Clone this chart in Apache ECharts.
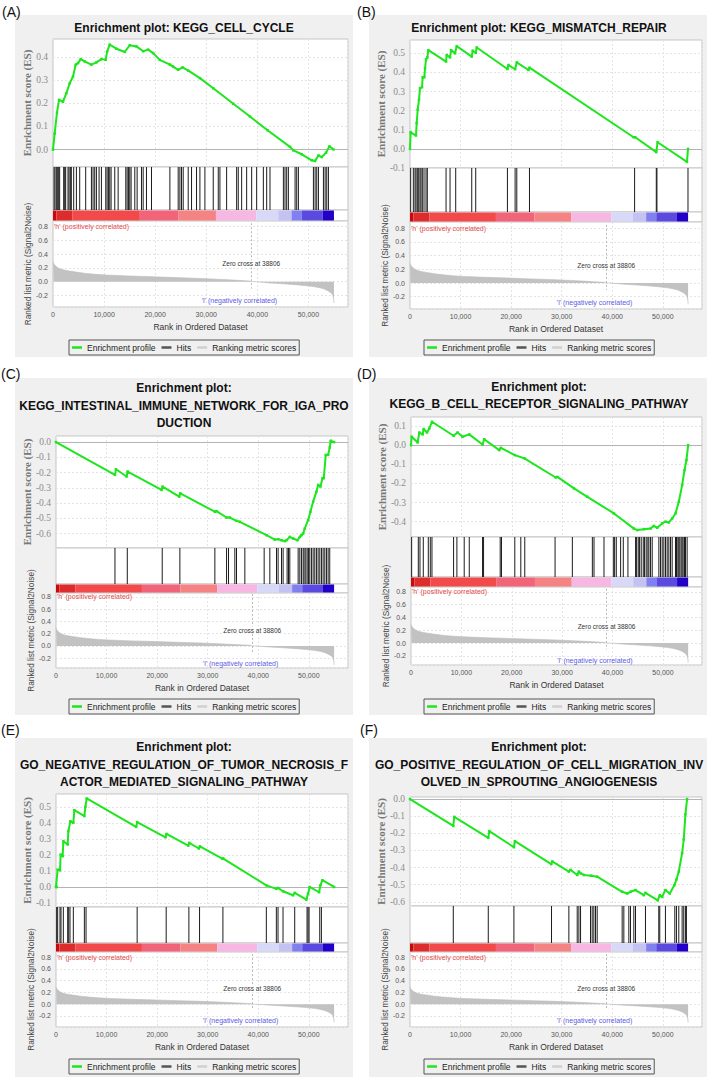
<!DOCTYPE html>
<html>
<head>
<meta charset="utf-8">
<script src="https://cdn.jsdelivr.net/npm/echarts@6/dist/echarts.min.js"></script>
<style>html,body{margin:0;padding:0;background:#fff}#c{width:709px;height:1077px}</style>
</head>
<body>
<div id="c"></div>
<script>
// ---------------- DATA ----------------
const panelLabels = ['(A)', '(B)', '(C)', '(D)', '(E)', '(F)'];
const panelTitles = [
  'Enrichment plot: KEGG_CELL_CYCLE',
  'Enrichment plot: KEGG_MISMATCH_REPAIR',
  'Enrichment plot:\nKEGG_INTESTINAL_IMMUNE_NETWORK_FOR_IGA_PRO\nDUCTION',
  'Enrichment plot:\nKEGG_B_CELL_RECEPTOR_SIGNALING_PATHWAY',
  'Enrichment plot:\nGO_NEGATIVE_REGULATION_OF_TUMOR_NECROSIS_F\nACTOR_MEDIATED_SIGNALING_PATHWAY',
  'Enrichment plot:\nGO_POSITIVE_REGULATION_OF_CELL_MIGRATION_INV\nOLVED_IN_SPROUTING_ANGIOGENESIS'
];
const legendNames = ['Enrichment profile', 'Hits', 'Ranking metric scores'];
const esAxisName = 'Enrichment score (ES)';
const rankAxisName = 'Ranked list metric (Signal2Noise)';
const xAxisName = 'Rank in Ordered Dataset';
const posLabel = "'h' (positively correlated)";
const negLabel = "'l' (negatively correlated)";
const ZERO_CROSS = 38806;
const zeroCrossLabel = 'Zero cross at 38806';
const xTickValues = [0, 10000, 20000, 30000, 40000, 50000];

// Running enrichment score, [rank, ES]
const esA = [[0,0.0],[330,0.07],[780,0.16],[1180,0.215],[1960,0.207],[2600,0.243],[3270,0.287],[3920,0.316],[4440,0.367],[4900,0.374],[5420,0.391],[6200,0.381],[7500,0.367],[8500,0.377],[9480,0.391],[10300,0.388],[10600,0.424],[11100,0.454],[12400,0.436],[14050,0.422],[15030,0.451],[16340,0.446],[17650,0.425],[18630,0.432],[19600,0.417],[20900,0.388],[22900,0.367],[23500,0.359],[24500,0.345],[25360,0.355],[26500,0.341],[28760,0.309],[31370,0.265],[35300,0.198],[38560,0.143],[42000,0.084],[46400,0.012],[47060,-0.003],[48700,-0.02],[50650,-0.046],[51300,-0.049],[51960,-0.025],[52610,-0.032],[53460,-0.013],[54100,0.014],[54900,0.001]];
const esB = [[0,0],[130,0.087],[1190,0.07],[1320,0.135],[1520,0.205],[1780,0.257],[1980,0.318],[2380,0.323],[2510,0.375],[2840,0.375],[2970,0.422],[3170,0.469],[3430,0.479],[3630,0.517],[7130,0.457],[7260,0.491],[7920,0.479],[8120,0.517],[8910,0.5],[9240,0.538],[12210,0.483],[12410,0.514],[13000,0.503],[13200,0.531],[19270,0.418],[19470,0.439],[20790,0.417],[21120,0.453],[23430,0.413],[23630,0.425],[44220,0.061],[44550,0.061],[48710,-0.017],[48970,0.035],[54780,-0.068],[54980,0.0]];
const esC = [[0,0],[11660,-0.215],[11860,-0.178],[13960,-0.226],[14160,-0.193],[20880,-0.314],[21080,-0.292],[24370,-0.358],[24570,-0.336],[31420,-0.457],[31750,-0.453],[33730,-0.495],[34380,-0.495],[35700,-0.517],[36360,-0.523],[41630,-0.611],[43280,-0.64],[43930,-0.637],[44600,-0.644],[45250,-0.65],[45580,-0.644],[46240,-0.622],[46900,-0.633],[47760,-0.644],[48220,-0.622],[48550,-0.611],[48880,-0.6],[49200,-0.567],[49860,-0.512],[50320,-0.457],[50850,-0.391],[51510,-0.325],[51840,-0.281],[52300,-0.292],[52700,-0.237],[52960,-0.237],[53350,-0.084],[53820,-0.084],[54140,-0.035],[54340,0.009],[55000,0]];
const esD = [[0,0],[130,0.044],[1320,0.014],[1650,0.066],[2310,0.056],[2510,0.084],[3170,0.066],[3630,0.087],[4160,0.122],[8450,0.049],[9240,0.066],[10230,0.044],[11560,0.056],[14200,0.003],[14530,0.031],[17500,-0.026],[17830,-0.014],[20600,-0.052],[22580,-0.07],[28720,-0.169],[29050,-0.166],[32350,-0.226],[35000,-0.27],[40280,-0.357],[44240,-0.436],[44900,-0.444],[46220,-0.439],[47540,-0.436],[48200,-0.422],[48860,-0.432],[49850,-0.409],[50510,-0.4],[51170,-0.404],[51830,-0.383],[52490,-0.357],[53150,-0.296],[53810,-0.209],[54280,-0.131],[54670,-0.078],[55000,0]];
const esE = [[0,0],[130,0],[330,0.108],[790,0.104],[920,0.202],[1320,0.192],[1450,0.285],[2310,0.265],[2440,0.348],[2840,0.41],[3430,0.4],[3630,0.479],[5610,0.442],[5810,0.5],[6070,0.552],[15850,0.375],[16050,0.404],[21660,0.31],[21860,0.331],[26150,0.258],[26350,0.275],[28260,0.24],[28460,0.254],[32880,0.177],[33080,0.177],[41600,0.01],[43580,-0.012],[43910,-0.006],[44900,-0.027],[46880,-0.052],[47210,-0.037],[49520,-0.079],[49850,-0.042],[50180,0.0],[52030,-0.033],[52290,0.01],[52690,0.042],[55000,0]];
const esF = [[0,0],[8560,-0.157],[8760,-0.104],[15480,-0.226],[15680,-0.187],[20550,-0.281],[20750,-0.246],[27930,-0.38],[28130,-0.364],[31420,-0.423],[31750,-0.413],[33070,-0.443],[33400,-0.423],[33730,-0.433],[34380,-0.443],[35830,-0.447],[37020,-0.453],[41960,-0.541],[42950,-0.551],[43610,-0.541],[44600,-0.531],[46240,-0.561],[46570,-0.547],[49010,-0.591],[49400,-0.561],[49860,-0.571],[50520,-0.531],[51380,-0.551],[52300,-0.502],[52700,-0.469],[53160,-0.423],[53820,-0.315],[54140,-0.236],[54470,-0.089],[54800,0.0]];

// Positions (ranks) of gene-set members
const hitsA = [200,390,650,850,1110,1300,2090,2290,2480,2940,3140,3400,3590,4050,4580,5230,6400,7520,7840,8170,8500,9020,9480,10330,10590,10850,11110,11370,12090,12750,14250,14510,14770,15030,15290,16010,16470,17320,17650,18300,19280,22880,24510,24840,25160,25490,26470,27120,28100,28760,29740,31370,32350,32680,33990,35950,36270,36930,37910,38890,39870,41180,41830,42480,45100,45420,45750,46080,47390,47710,48040,50980,51310,51630,51960,52940,53270,53590,53920];
const hitsB = [130,660,990,1190,1450,1720,1980,2180,2440,2770,3170,3430,7130,7920,9040,12210,13000,19270,20790,21120,23630,44420,48710,48840,54980];
const hitsC = [11660,14100,21010,24500,31420,33730,34120,35370,35700,37350,41170,42290,43610,43930,44600,44920,45710,45980,46240,47890,48220,48550,48880,49070,49400,49670,49930,50190,50520,50850,51180,51510,51840,52170,52500,52830,53160,53490,53820,54140];
const hitsD = [130,1450,1780,2440,3430,3830,4160,8450,9110,10560,11560,14200,14400,17700,17960,20600,21790,22580,28590,32020,35990,36320,38300,40150,40410,40740,41600,42130,43050,44570,44770,45100,45360,45690,46090,46350,46680,47010,47210,47540,47870,49190,49520,49850,50180,50510,50840,51170,51500,51830,52490,52690,52960,53150,53350,53610,53810,54010,54280,54470,54800];
const hitsE = [130,330,790,990,1450,2310,2510,2770,3430,5610,5940,16050,21790,26280,28390,33010,41600,43580,43910,44900,47210,49650,49850,50050,52160,52490];
const hitsF = [8560,15480,20550,27990,31420,33070,33400,33730,35700,36030,36360,36690,37020,41960,42290,43280,43610,44270,44600,46570,49200,49400,50520,52370,52700,53160,53820,54140,54470,54670];

// Ranked list metric (Signal2Noise), [rank, metric] — shared by all panels
const rankedMetric = [[0,0.29],[100,0.27],[250,0.25],[450,0.235],[650,0.22],[1000,0.2],[1630,0.18],[2400,0.166],[3260,0.155],[4800,0.136],[6520,0.12],[8400,0.107],[10430,0.097],[15000,0.083],[19560,0.072],[24000,0.06],[28690,0.048],[32000,0.037],[35210,0.024],[37000,0.016],[38460,0.01],[38806,0.0],[39800,0.0],[39850,-0.006],[42500,-0.019],[44980,-0.03],[47500,-0.044],[49540,-0.058],[51000,-0.071],[52150,-0.087],[53000,-0.104],[53780,-0.13],[54300,-0.155],[54760,-0.19],[54950,-0.25],[55000,-0.31]];

// Heat-map colour bar blocks, [startRank, endRank, colourIndex]
const colorBlocks = [[0,660,0],[660,3830,1],[3830,17000,2],[17000,24600,3],[24600,31900,4],[31900,39800,5],[39800,44100,6],[44100,46700,7],[46700,48700,8],[48700,52800,9],[52800,55000,10]];

const esData = [esA, esB, esC, esD, esE, esF];
const hitData = [hitsA, hitsB, hitsC, hitsD, hitsE, hitsF];

// ---------------- STYLES / LAYOUT ----------------
const BLOCK_COLORS = ['#c80a0a','#dc2c2c','#f24a4a','#f2647a','#f58383','#f6b8e2','#d8d8f8','#c4c2f2','#8080f0','#5a4ae0','#2200c8'];
const GREEN = '#1ee61e';
const SANS = "'Liberation Sans', Arial, sans-serif";
const SERIF = "'Liberation Serif', 'Times New Roman', serif";
const X_MAX = 57750;
const LAYOUT = [
  {bg:[15,15,338,342], lab:[2,11.5], tx:184, ty:27.5, left:53, w:295, es:[39,128], hits:[167,43], cb:[210,11], rk:[221,86], esR:[-0.075,0.478], rkR:[-0.368,0.883], lg:[69,340]},
  {bg:[369,15,338,342], lab:[357,11.5], tx:539, ty:27.5, left:410, w:292, es:[40,128], hits:[168,44], cb:[212,10], rk:[222,87], esR:[-0.1,0.57], rkR:[-0.38,0.892], lg:[424,340]},
  {bg:[15,378,338,337], lab:[1,374], tx:184, ty:405.5, left:56, w:292, es:[436,112], hits:[548,36], cb:[584,9], rk:[593,75], esR:[-0.695,0.04], rkR:[-0.36,0.865], lg:[69,699]},
  {bg:[369,378,338,337], lab:[357,374], tx:539, ty:395.5, left:411, w:291, es:[417,120], hits:[537,40], cb:[577,10], rk:[587,78], esR:[-0.48,0.147], rkR:[-0.344,0.878], lg:[424,699]},
  {bg:[15,738,338,339], lab:[1,730], tx:184, ty:764.5, left:56, w:292, es:[794,113], hits:[907,36], cb:[943,9], rk:[952,75], esR:[-0.125,0.58], rkR:[-0.387,0.885], lg:[69,1059]},
  {bg:[369,738,338,339], lab:[360,730], tx:539, ty:764.5, left:410, w:292, es:[797,109], hits:[906,37], cb:[943,9], rk:[952,75], esR:[-0.624,0.012], rkR:[-0.387,0.885], lg:[424,1059]}
];

function fmtStep(step) {
  return function (v) {
    const t = Math.round(v / step);
    if (Math.abs(v / step - t) > 1e-6) return '';
    return (t * step).toFixed(1);
  };
}
function fmtRank(v) {
  if (xTickValues.indexOf(v) < 0) return '';
  return String(v).replace(/\B(?=(\d{3})+(?!\d))/g, ',');
}
function renderHit(params, api) {
  const x = api.coord([api.value(0), 0])[0];
  const cs = params.coordSys;
  return {type:'line', shape:{x1:x, y1:cs.y, x2:x, y2:cs.y + cs.height}, style:{stroke:'#1c1c1c', lineWidth:1}};
}
function renderBlock(params, api) {
  const x0 = api.coord([api.value(0), 0])[0];
  const x1 = api.coord([api.value(1), 0])[0];
  const cs = params.coordSys;
  return {type:'rect', shape:{x:x0, y:cs.y + 0.5, width:x1 - x0, height:cs.height - 1}, style:{fill:BLOCK_COLORS[api.value(2)]}};
}

const grids = [], xAxes = [], yAxes = [], series = [], legends = [], graphics = [];
const splitStyle = {color:'#e4e4e4', type:[2,2], width:1};

LAYOUT.forEach(function (L, i) {
  const g0 = grids.length;
  [[L.es[0], L.es[1]], [L.hits[0], L.hits[1]], [L.cb[0], L.cb[1]], [L.rk[0], L.rk[1]]].forEach(function (tb) {
    grids.push({left:L.left, top:tb[0], width:L.w, height:tb[1], show:true, backgroundColor:'#ffffff', borderColor:'#c4c4c4', borderWidth:1, containLabel:false, outerBoundsMode:'none'});
  });
  for (let k = 0; k < 4; k++) {
    xAxes.push({
      type:'value', gridIndex:g0 + k, min:0, max:X_MAX, interval:10000,
      show: k === 0 || k === 3,
      axisLine:{show:false}, axisTick:{show:false},
      axisLabel:{show:k === 3, formatter:fmtRank, fontSize:7, color:'#555', fontFamily:SANS, margin:4},
      splitLine:{show:true, lineStyle:splitStyle},
      name: k === 3 ? xAxisName : '', nameLocation:'middle', nameGap:15,
      nameTextStyle:{fontSize:8.5, color:'#333', fontFamily:SANS}
    });
  }
  yAxes.push({
    type:'value', gridIndex:g0, min:L.esR[0], max:L.esR[1], minInterval:0.1, maxInterval:0.1, splitNumber:6,
    axisLine:{show:false}, axisTick:{show:false},
    axisLabel:{formatter:fmtStep(0.1), fontSize:9.5, color:'#8c8c8c', fontFamily:SERIF, margin:5},
    splitLine:{show:true, lineStyle:splitStyle},
    name:esAxisName, nameLocation:'middle', nameGap:17,
    nameTextStyle:{fontSize:11, color:'#787878', fontFamily:SERIF, fontWeight:'bold'}
  });
  yAxes.push({type:'value', gridIndex:g0 + 1, min:0, max:1, show:false});
  yAxes.push({type:'value', gridIndex:g0 + 2, min:0, max:1, show:false});
  yAxes.push({
    type:'value', gridIndex:g0 + 3, min:L.rkR[0], max:L.rkR[1], minInterval:0.2, maxInterval:0.2, splitNumber:6,
    axisLine:{show:false}, axisTick:{show:false},
    axisLabel:{formatter:fmtStep(0.2), fontSize:7, color:'#555', fontFamily:SANS, margin:5},
    splitLine:{show:true, lineStyle:splitStyle},
    name:rankAxisName, nameLocation:'middle', nameGap:20,
    nameTextStyle:{fontSize:8.3, color:'#444', fontFamily:SANS}
  });

  series.push({
    type:'line', name:legendNames[0], xAxisIndex:g0, yAxisIndex:g0, data:esData[i],
    symbol:'rect', symbolSize:2.5, showSymbol:true, z:4,
    lineStyle:{color:GREEN, width:2}, itemStyle:{color:GREEN},
    markLine:{silent:true, symbol:['none','none'], label:{show:false}, lineStyle:{color:'#b4b4b4', width:1, type:'solid'}, data:[{yAxis:0}], z:2}
  });
  series.push({
    type:'custom', name:legendNames[1], xAxisIndex:g0 + 1, yAxisIndex:g0 + 1,
    data:hitData[i].map(function (r) { return [r, 0]; }), renderItem:renderHit, itemStyle:{color:'#444'}, silent:true
  });
  series.push({
    type:'custom', name:'colour bar', xAxisIndex:g0 + 2, yAxisIndex:g0 + 2,
    data:colorBlocks, renderItem:renderBlock, silent:true
  });
  series.push({
    type:'line', name:legendNames[2], xAxisIndex:g0 + 3, yAxisIndex:g0 + 3, data:rankedMetric,
    symbol:'none', lineStyle:{color:'#bcbcbc', width:0.6}, areaStyle:{color:'#c2c2c2', opacity:1, origin:0}, silent:true,
    markLine:{silent:true, symbol:['none','none'], label:{show:false}, lineStyle:{color:'#b8b8b8', width:1, type:[2,2]},
      data:[[{coord:[ZERO_CROSS, 0.85]}, {coord:[ZERO_CROSS, -0.1]}]]},
    markPoint:{silent:true, symbol:'rect', symbolSize:0, data:[
      {coord:[ZERO_CROSS, 0.26], label:{show:true, position:'inside', formatter:zeroCrossLabel, fontSize:6.5, color:'#333', fontFamily:SANS, backgroundColor:'#ffffff', padding:[0,1]}},
      {coord:[0, 0.8], label:{show:true, position:'right', distance:1, formatter:posLabel, fontSize:7, color:'#e04a4a', fontFamily:SANS}},
      {coord:[36500, -0.28], label:{show:true, position:'inside', formatter:negLabel, fontSize:7, color:'#5c5ce6', fontFamily:SANS}}
    ]}
  });

  legends.push({
    left:L.lg[0], top:L.lg[1], orient:'horizontal', itemWidth:10, itemHeight:2.5, itemGap:6, padding:[3,3],
    borderColor:'#555', borderWidth:1, selectedMode:false,
    textStyle:{fontSize:8.5, color:'#222', fontFamily:SANS},
    data:[
      {name:legendNames[0], icon:'rect', itemStyle:{color:GREEN}},
      {name:legendNames[1], icon:'rect', itemStyle:{color:'#555'}},
      {name:legendNames[2], icon:'rect', itemStyle:{color:'#d0d0d0'}}
    ]
  });

  graphics.push({type:'rect', z:-100, silent:true, shape:{x:L.bg[0], y:L.bg[1], width:L.bg[2], height:L.bg[3]}, style:{fill:'#f0f0f0'}});
  graphics.push({type:'text', z:10, silent:true, x:L.lab[0], y:L.lab[1], style:{text:panelLabels[i], fontSize:14, fontFamily:SANS, fill:'#111', align:'left', verticalAlign:'middle'}});
  graphics.push({type:'text', z:10, silent:true, x:L.tx, y:L.ty, style:{text:panelTitles[i], fontSize:12, fontWeight:'bold', fontFamily:SANS, fill:'#111', align:'center', verticalAlign:'middle', lineHeight:17.5}});
});

const chart = echarts.init(document.getElementById('c'), null, {renderer:'svg', width:709, height:1077});
chart.setOption({
  animation:false,
  backgroundColor:'#ffffff',
  grid:grids, xAxis:xAxes, yAxis:yAxes, series:series, legend:legends,
  graphic:{elements:graphics}
});
</script>
</body>
</html>
